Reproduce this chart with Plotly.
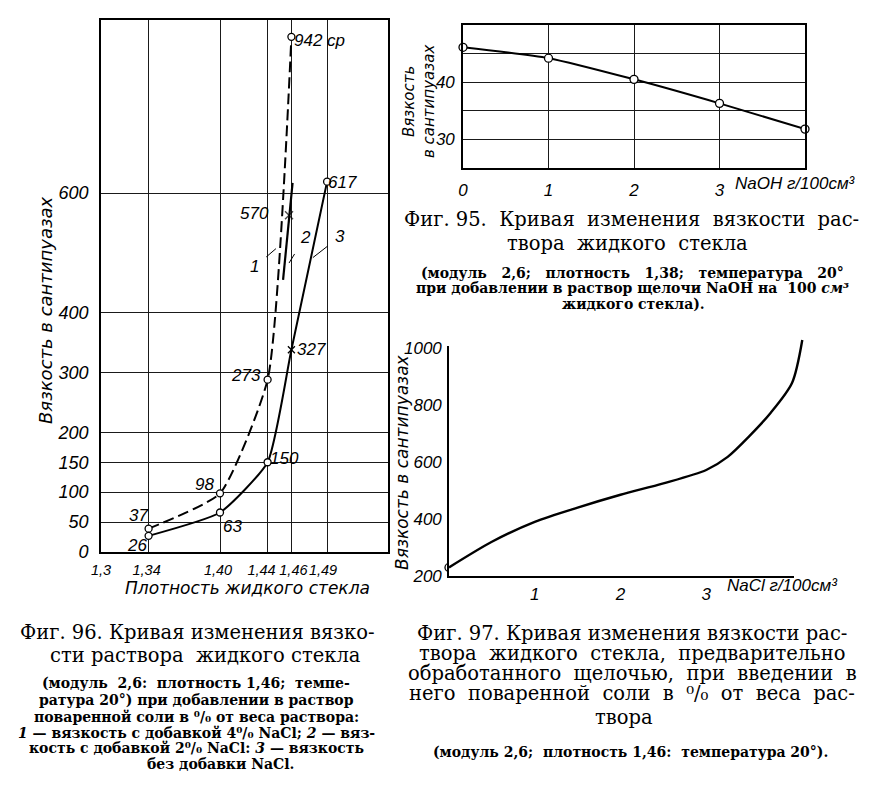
import plotly.graph_objects as go

# page size of the scanned sheet; the browser puts the figure 8 px in from the corner
W, H = 870, 805
PAD = 8
FIG_W, FIG_H = W - PAD, H - PAD


def px_x(p):
    return (p - PAD) / FIG_W


def px_y(p):
    return 1 - (p - PAD) / FIG_H


# Fig. 96 - viscosity vs density of the water glass
dens_ticks = [1.3, 1.34, 1.40, 1.44, 1.46, 1.49]
dens_ticktext = ["1,3", "1,34\u00a0", "1,40\u00a0", "1,44\u00a0\u00a0\u00a0", "\u00a01,46", "1,49\u00a0\u00a0"]
visc96_ticks = [0, 50, 100, 150, 200, 300, 400, 600]

dens_1 = [1.34, 1.40, 1.44, 1.46]          # curve 1, 4% NaCl
visc_1 = [39, 98, 288, 861]
lbl_1 = ["37", "98", "273", "942 ср"]

dens_2 = [1.453, 1.458, 1.461]             # curve 2, 2% NaCl
visc_2 = [455, 563, 617]
lbl_2 = ["", "570", ""]

dens_3 = [1.34, 1.40, 1.44, 1.46, 1.49]    # curve 3, no NaCl
visc_3 = [27, 66, 150, 338, 619]
lbl_3 = ["26", "63", "150", "327", "617"]

# Fig. 95 - viscosity vs NaOH added
naoh = [0, 1, 2, 3, 4]
visc95 = [46.1, 44.2, 40.5, 36.3, 31.8]

# Fig. 97 - viscosity vs NaCl added
nacl_pts = [0, 1, 2, 3, 4]
visc97_pts = [230, 390, 485, 525, 877]
nacl_curve = [0, 0.5, 1, 1.5, 2, 2.5, 3, 3.25, 3.5, 3.75, 4, 4.12]
visc97_curve = [230, 320, 390, 440, 485, 525, 572, 618, 690, 772, 877, 1028]

NUM = "Liberation Sans, Arial, sans-serif"
SANS = "DejaVu Sans, Liberation Sans, sans-serif"
SERIF = "DejaVu Serif, Liberation Serif, serif"

tick_font = dict(family=NUM, size=17, color="black", style="italic")
circle = dict(symbol="circle", size=7, color="white", line=dict(color="black", width=1.3))

fig = go.Figure()

# --- Fig. 96 ---
fig.add_trace(go.Scatter(x=dens_1, y=visc_1, mode="lines+markers",
                         line=dict(color="black", width=2, dash="11px,5px", shape="spline", smoothing=0.5),
                         marker=circle, xaxis="x", yaxis="y"))
fig.add_trace(go.Scatter(x=dens_2, y=visc_2, mode="lines+markers",
                         line=dict(color="black", width=2.2),
                         marker=dict(symbol="x-thin", size=[0, 8, 0], line=dict(color="black", width=1.4)),
                         xaxis="x", yaxis="y"))
fig.add_trace(go.Scatter(x=dens_3, y=visc_3, mode="lines+markers",
                         line=dict(color="black", width=2, shape="spline", smoothing=0.5),
                         marker=dict(symbol=["circle", "circle", "circle", "x-thin", "circle"], size=7,
                                     color="white", line=dict(color="black", width=1.3)),
                         xaxis="x", yaxis="y"))

# --- Fig. 95 ---
fig.add_trace(go.Scatter(x=naoh, y=visc95, mode="lines+markers",
                         line=dict(color="black", width=2, shape="spline", smoothing=0.6),
                         marker=dict(circle, size=8), xaxis="x2", yaxis="y2", cliponaxis=False))

# --- Fig. 97 --- (curve on a slightly larger hidden frame so it can run past the border)
x97 = (449, 792)
y97 = (576, 348)
x97_ext, y97_ext = 806, 334
x_ext_max = 4 * (x97_ext - x97[0]) / (x97[1] - x97[0])
y_ext_max = 200 + 800 * (y97[0] - y97_ext) / (y97[0] - y97[1])
fig.add_trace(go.Scatter(x=nacl_curve, y=visc97_curve, mode="lines",
                         line=dict(color="black", width=2.4, shape="spline", smoothing=0.8),
                         xaxis="x4", yaxis="y4"))
fig.add_trace(go.Scatter(x=nacl_pts, y=visc97_pts, mode="markers",
                         marker=dict(circle, size=8), xaxis="x3", yaxis="y3", cliponaxis=False))

frame = dict(showline=True, linecolor="black", linewidth=1.6, mirror=True,
             showgrid=True, gridcolor="#1a1a1a", gridwidth=1, zeroline=False,
             ticks="", tickfont=tick_font, tickangle=0, fixedrange=True, automargin=False)

fig.update_layout(
    template="none",
    width=FIG_W, height=FIG_H,
    margin=dict(l=0, r=0, t=0, b=0, autoexpand=False),
    paper_bgcolor="white", plot_bgcolor="white",
    font=dict(color="black"),
    showlegend=False,
    xaxis=dict(frame, domain=[px_x(101), px_x(388)], range=[1.3, 1.3 + 287 / 1190],
               tickvals=dens_ticks, ticktext=dens_ticktext, ticklabelstandoff=4, anchor="y",
               tickfont=dict(tick_font, size=14.5)),
    yaxis=dict(frame, domain=[px_y(552), px_y(20)], range=[0, 532 / 0.5983],
               tickvals=visc96_ticks, ticklabelstandoff=7, anchor="x",
               tickfont=dict(tick_font, size=18)),
    xaxis2=dict(frame, domain=[px_x(463), px_x(805)], range=[0, 4],
                tickvals=[0, 1, 2, 3], ticklabelstandoff=6, anchor="y2"),
    yaxis2=dict(frame, domain=[px_y(168), px_y(25)], range=[25, 50],
                tickvals=[30, 35, 40, 45], ticktext=["30", "", "40", ""], ticklabelstandoff=3, anchor="x2"),
    xaxis3=dict(frame, domain=[px_x(x97[0]), px_x(x97[1])], range=[0, 4],
                tickvals=[1, 2, 3], ticklabelstandoff=2, anchor="y3"),
    yaxis3=dict(frame, domain=[px_y(y97[0]), px_y(y97[1])], range=[200, 1000],
                tickvals=list(range(200, 1001, 100)),
                ticktext=["200", "", "400", "", "600", "", "800", "", "1000"],
                ticklabelstandoff=2, anchor="x3"),
    xaxis4=dict(domain=[px_x(x97[0]), px_x(x97_ext)], range=[0, x_ext_max], visible=False,
                fixedrange=True, automargin=False, anchor="y4"),
    yaxis4=dict(domain=[px_y(y97[0]), px_y(y97_ext)], range=[200, y_ext_max], visible=False,
                fixedrange=True, automargin=False, anchor="x4"),
)

ann = []
lbl_font = dict(family=NUM, size=17, color="black", style="italic")

# point labels of Fig. 96, offsets in pixels
off_1 = [(-10, -13), (-16, -9), (-22, -4), (28, 4)]
off_2 = [(0, 0), (-35, -2), (0, 0)]
off_3 = [(-12, 10), (12, 14), (17, -4), (20, 0), (15, 1)]
for xs, ys, ls, offs in [(dens_1, visc_1, lbl_1, off_1), (dens_2, visc_2, lbl_2, off_2),
                         (dens_3, visc_3, lbl_3, off_3)]:
    for x, y, t, (ox, oy) in zip(xs, ys, ls, offs):
        if t:
            ann.append(dict(x=x, y=y, xref="x", yref="y", text=t, showarrow=False,
                            xanchor="center", yanchor="middle",
                            xshift=ox, yshift=-oy, font=lbl_font))

# curve numbers with short leader strokes
for tip_x, tip_y, t, ax, ay in [(1.447, 507, "1", -21, 18), (1.458, 483, "2", 16, -26),
                                (1.478, 492, "3", 27, -21)]:
    ann.append(dict(x=tip_x, y=tip_y, xref="x", yref="y", text=t, showarrow=True,
                    arrowhead=0, arrowwidth=1, arrowcolor="black", ax=ax, ay=ay,
                    standoff=0, startstandoff=7, font=lbl_font))

# axis titles
ann.append(dict(x=px_x(45), y=px_y(310), text="Вязкость в сантипуазах",
                textangle=-90, font=dict(family=SANS, size=18, style="italic")))
ann.append(dict(x=px_x(247), y=px_y(588), text="Плотность жидкого стекла",
                font=dict(family=SANS, size=17, style="italic")))
ann.append(dict(x=px_x(419), y=px_y(102), text="Вязкость<br>в сантипуазах",
                textangle=-90, font=dict(family=SANS, size=15, style="italic")))
ann.append(dict(x=px_x(402), y=px_y(462), text="Вязкость в сантипуазах",
                textangle=-90, font=dict(family=SANS, size=17, style="italic")))
for a in ann[-4:]:
    a.update(xref="paper", yref="paper", xanchor="center", yanchor="middle", showarrow=False)

ann.append(dict(x=3.16, y=px_y(183), xref="x2", yref="paper", text="NaOH г/100см³",
                xanchor="left", yanchor="middle", showarrow=False, font=lbl_font))
ann.append(dict(x=3.22, y=px_y(585), xref="x3", yref="paper", text="NaCl г/100см³",
                xanchor="left", yanchor="middle", showarrow=False, font=lbl_font))

# captions
pct = "⁰/₀"
big = dict(family=SERIF, size=19.5, color="black")
small = dict(family=SERIF, size=14, color="black", weight="bold")
captions = [
    (197, 632, "Фиг. 96. Кривая изменения вязко-", big),
    (205, 655, "сти раствора  жидкого стекла", big),
    (196, 683, "(модуль  2,6:  плотность 1,46;  темпе-", small),
    (196, 700, "ратура 20°) при добавлении в раствор", small),
    (196, 717, f"поваренной соли в {pct} от веса раствора:", small),
    (196, 733, f"<i>1</i> — вязкость с добавкой 4{pct} NaCl; <i>2</i> — вяз-", small),
    (196, 748, f"кость с добавкой 2{pct} NaCl: <i>3</i> — вязкость", small),
    (220, 764, "без добавки NaCl.", small),
    (631, 220, "Фиг. 95.  Кривая  изменения  вязкости  рас-", big),
    (627, 243, "твора  жидкого  стекла", big),
    (632, 273, "(модуль   2,6;   плотность   1,38;   температура   20°", small),
    (632, 288, "при добавлении в раствор щелочи NaOH на  100 <i>см³</i>", small),
    (633, 304, "жидкого стекла).", small),
    (632, 633, "Фиг. 97. Кривая изменения вязкости рас-", big),
    (632, 653, "твора  жидкого  стекла,  предварительно", big),
    (632, 673, "обработанного  щелочью,  при  введении  в", big),
    (632, 693, f"него  поваренной  соли  в  {pct}  от  веса  рас-", big),
    (624, 717, "твора", big),
    (630, 752, "(модуль 2,6;  плотность 1,46:  температура 20°).", small),
]
for cx, cy, t, f in captions:
    ann.append(dict(x=px_x(cx), y=px_y(cy), xref="paper", yref="paper", text=t,
                    xanchor="center", yanchor="middle", showarrow=False, font=f))

fig.update_layout(annotations=ann)
fig.write_html("out.html")
